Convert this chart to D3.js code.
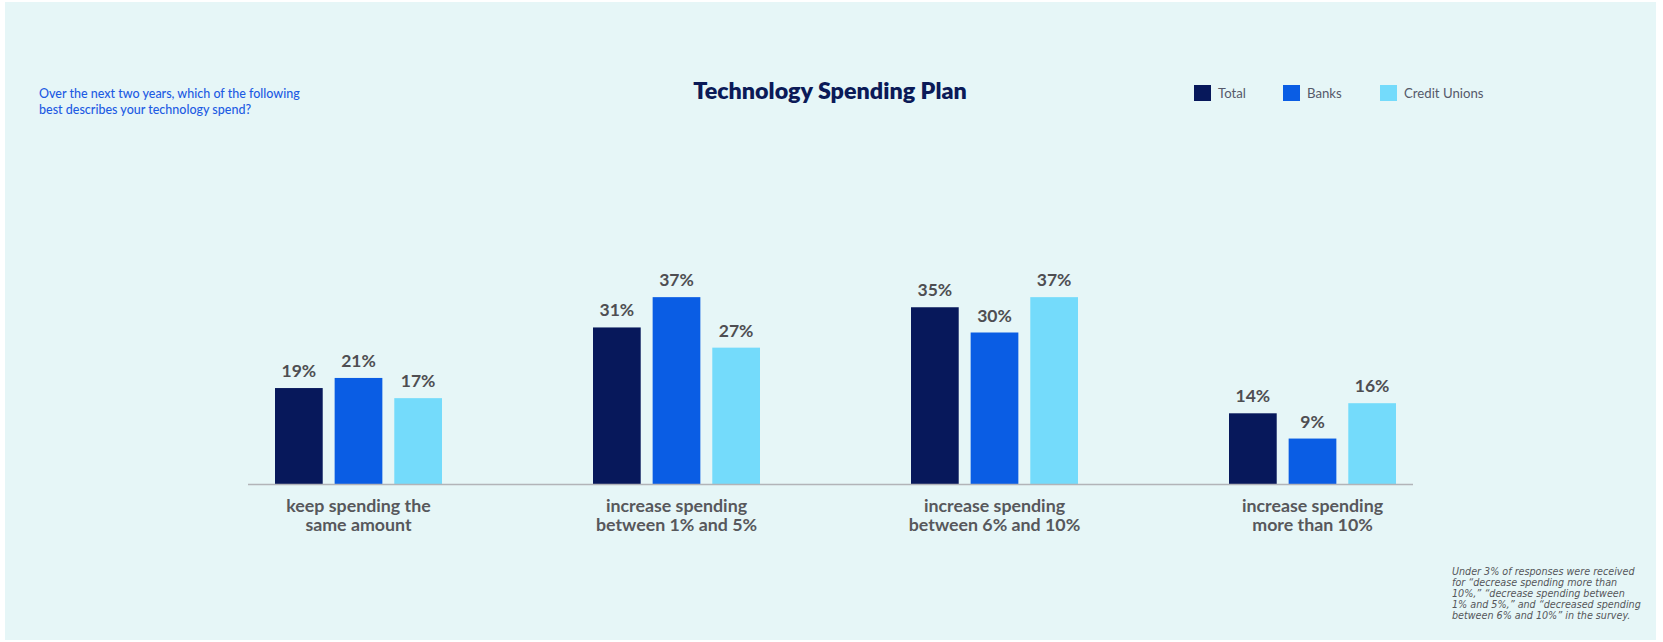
<!DOCTYPE html>
<html>
<head>
<meta charset="utf-8">
<script src="https://cdn.jsdelivr.net/npm/d3@7"></script>
<style>
  html, body { margin: 0; padding: 0; background: #ffffff; }
  svg { display: block; }
  text { font-family: Lato, "Noto Sans", sans-serif; }
</style>
</head>
<body>
<svg id="chart" width="1663" height="642"></svg>
<script>
// ---- data ----
const categories = [
  "keep spending the|same amount",
  "increase spending|between 1% and 5%",
  "increase spending|between 6% and 10%",
  "increase spending|more than 10%"
];
const seriesNames = ["Total", "Banks", "Credit Unions"];
const totalValues = [19, 31, 35, 14];
const bankValues = [21, 37, 30, 9];
const creditUnionValues = [17, 27, 37, 16];
const titleText = "Technology Spending Plan";
const subtitleLines = [
  "Over the next two years, which of the following",
  "best describes your technology spend?"
];
const footnoteLines = [
  "Under 3% of responses were received",
  "for \u201cdecrease spending more than",
  "10%,\u201d \u201cdecrease spending between",
  "1% and 5%,\u201d and \u201cdecreased spending",
  "between 6% and 10%\u201d in the survey."
];

// ---- styling ----
const colors = { "Total": "#07185b", "Banks": "#0a5de4", "Credit Unions": "#74dbfb" };
const seriesValues = { "Total": totalValues, "Banks": bankValues, "Credit Unions": creditUnionValues };

const svg = d3.select("#chart");

svg.append("rect")
  .attr("x", 5).attr("y", 2).attr("width", 1651).attr("height", 638)
  .attr("fill", "#e6f6f7");

const baseline = 484;
const x0 = d3.scaleBand().domain(categories).range([199.5, 1471.5]).padding(0);
const x1 = d3.scaleBand().domain(seriesNames).range([-83.5, 83.5]).paddingInner(0.2).paddingOuter(0);
const y = d3.scaleLinear().domain([0, 40]).range([baseline, 282]);

const data = categories.map((c, i) => ({
  cat: c,
  vals: seriesNames.map(s => ({ s, v: seriesValues[s][i] }))
}));

const groups = svg.append("g").selectAll("g")
  .data(data).join("g")
  .attr("transform", d => `translate(${x0(d.cat) + x0.bandwidth() / 2},0)`);

groups.selectAll("rect")
  .data(d => d.vals).join("rect")
  .attr("x", d => x1(d.s))
  .attr("width", x1.bandwidth())
  .attr("y", d => y(d.v))
  .attr("height", d => y(0) - y(d.v))
  .attr("fill", d => colors[d.s]);

groups.selectAll("text.val")
  .data(d => d.vals).join("text")
  .attr("class", "val")
  .attr("x", d => x1(d.s) + x1.bandwidth() / 2)
  .attr("y", d => y(d.v) - 11)
  .attr("text-anchor", "middle")
  .attr("font-size", 17.5)
  .attr("font-weight", 700)
  .attr("fill", "#4e4e52")
  .text(d => d.v + "%");

// axis baseline
const firstC = x0(categories[0]) + x0.bandwidth() / 2;
const lastC = x0(categories[categories.length - 1]) + x0.bandwidth() / 2;
svg.append("line")
  .attr("x1", firstC - 110.5).attr("x2", lastC + 100.5)
  .attr("y1", baseline + 0.5).attr("y2", baseline + 0.5)
  .attr("stroke", "#b2b4b8").attr("stroke-width", 1.5);

// category labels
groups.append("text")
  .attr("text-anchor", "middle")
  .attr("font-size", 17.8)
  .attr("font-weight", 700)
  .attr("fill", "#57585c")
  .selectAll("tspan")
  .data(d => d.cat.split("|")).join("tspan")
  .attr("x", 0)
  .attr("y", (d, i) => 512 + i * 19)
  .text(d => d);

// title
svg.append("text")
  .attr("x", 830).attr("y", 99)
  .attr("text-anchor", "middle")
  .attr("font-size", 23.3)
  .attr("font-weight", 800)
  .attr("fill", "#0b1a57")
  .text(titleText);

// subtitle
svg.append("text")
  .attr("font-size", 12.5)
  .attr("font-weight", 500)
  .attr("fill", "#1d5be3")
  .selectAll("tspan")
  .data(subtitleLines).join("tspan")
  .attr("x", 39)
  .attr("y", (d, i) => 98 + i * 16)
  .text(d => d);

// legend
const legendX = [1194, 1283, 1380];
const legend = svg.append("g").selectAll("g")
  .data(seriesNames).join("g")
  .attr("transform", (d, i) => `translate(${legendX[i]},85)`);
legend.append("rect")
  .attr("width", 17).attr("height", 16)
  .attr("fill", d => colors[d]);
legend.append("text")
  .attr("x", 24).attr("y", 12.5)
  .attr("font-size", 13.2)
  .attr("fill", "#55596a")
  .text(d => d);

// footnote
svg.append("text")
  .attr("font-size", 9.6)
  .attr("font-style", "italic")
  .attr("fill", "#55565a")
  .style("font-family", "'DejaVu Sans', sans-serif")
  .selectAll("tspan")
  .data(footnoteLines).join("tspan")
  .attr("x", 1452)
  .attr("y", (d, i) => 575 + i * 11)
  .text(d => d);
</script>
</body>
</html>
